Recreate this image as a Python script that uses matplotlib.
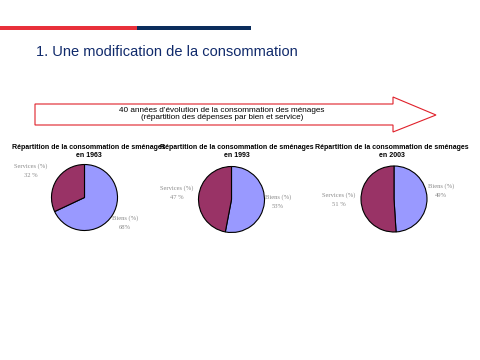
import matplotlib
matplotlib.use("Agg")
import matplotlib.pyplot as plt
from matplotlib.patches import Polygon, Rectangle

# ---- data ----
years = ["1963", "1993", "2003"]
categories = ["Biens (%)", "Services (%)"]
biens = [68, 53, 49]
services = [32, 47, 51]
slide_title = "1. Une modification de la consommation"
arrow_text = "40 années d\u2019évolution de la consommation des ménages\n(répartition des dépenses par bien et service)"
pie_title = "Répartition de la consommation de sménages\nen {}"

# ---- layout (pixels, y from top) ----
W, H = 480, 360
centers = [(84.5, 197.5), (231.5, 199.5), (394, 199)]
radius = 33
title_x = [89, 237, 392]
serv_lbl = [(31, 166), (177, 188), (339, 195)]
bien_lbl = [(125, 218), (278, 197), (441, 186)]

col_biens = "#9999FF"
col_serv = "#993366"
navy = "#0b2d5c"
red = "#e8303a"
grey = "#8c8c8c"

fig = plt.figure(figsize=(4.8, 3.6), dpi=100)
ax = fig.add_axes([0, 0, 1, 1])

def Y(y):
    return H - y

# header lines
ax.add_patch(Rectangle((0, Y(29.5)), 137, 3.5, color=red, lw=0))
ax.add_patch(Rectangle((137, Y(29.5)), 114, 3.5, color=navy, lw=0))
ax.text(36, Y(52), slide_title, fontsize=10.5, color="#102a6b",
        family="Liberation Sans", va="center", ha="left")

# arrow
arrow = Polygon([(35, Y(104)), (393, Y(104)), (393, Y(97)), (436, Y(115)),
                 (393, Y(132)), (393, Y(125)), (35, Y(125))],
                closed=True, facecolor="white", edgecolor="#e0202a", lw=0.8)
ax.add_patch(arrow)
ax.text(222, Y(114), arrow_text, fontsize=5.9, ha="center", va="center",
        family="Liberation Sans", linespacing=1.05, color="black")

for i, yr in enumerate(years):
    cx, cy = centers[i]
    ax.pie([biens[i], services[i]], colors=[col_biens, col_serv],
           center=(cx, Y(cy)), radius=radius, startangle=90,
           counterclock=False,
           wedgeprops=dict(edgecolor="black", linewidth=0.8))
    ax.text(title_x[i], Y(151.5), pie_title.format(yr), fontsize=5,
            ha="center", va="center", family="Liberation Sans",
            fontweight="bold", linespacing=1.05)
    sx, sy = serv_lbl[i]
    ax.text(sx, Y(sy + 4.5), "{}\n{} %".format(categories[1], services[i]),
            fontsize=4.7, ha="center", va="center", color=grey,
            family="Liberation Serif", linespacing=1.85)
    bx, by = bien_lbl[i]
    ax.text(bx, Y(by + 4.5), "{}\n{}%".format(categories[0], biens[i]),
            fontsize=4.7, ha="center", va="center", color=grey,
            family="Liberation Serif", linespacing=1.85)

ax.set_xlim(0, W)
ax.set_ylim(0, H)
ax.set_aspect("auto")
ax.axis("off")
fig.savefig("out.png", dpi=100, facecolor="white")
